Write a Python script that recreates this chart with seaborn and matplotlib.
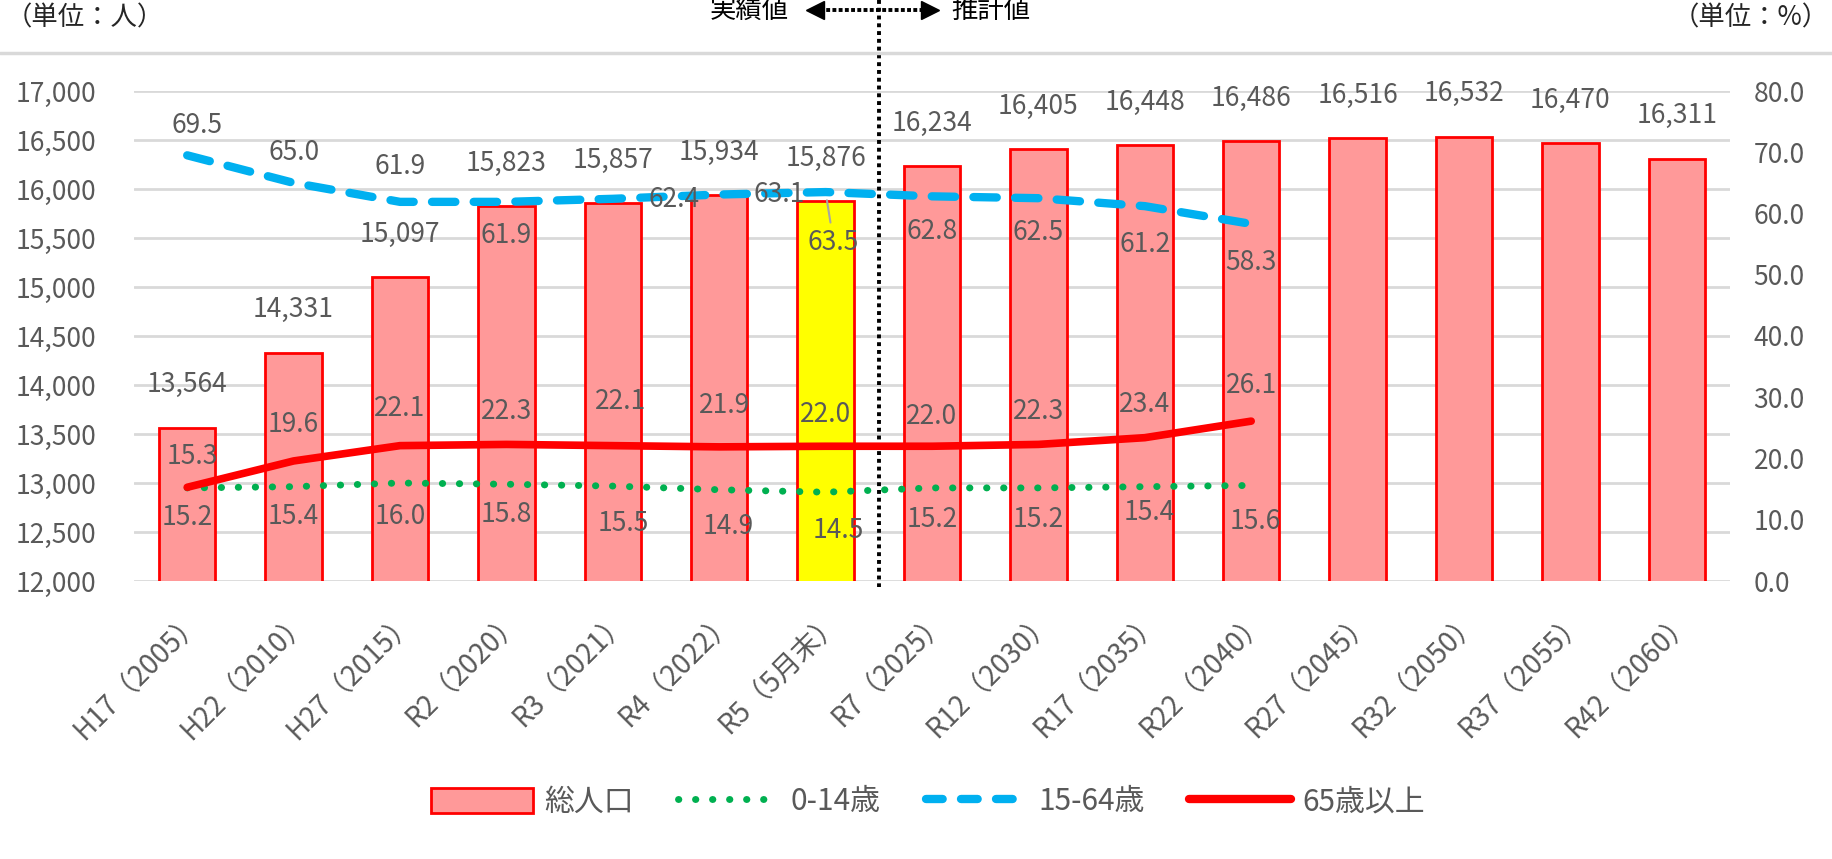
import numpy as np
import pandas as pd
import seaborn as sns
import matplotlib.pyplot as plt
import matplotlib.transforms as mtransforms
from matplotlib.lines import Line2D
from matplotlib.patches import Patch

# --- data ---
years = ["H17（2005）", "H22（2010）", "H27（2015）", "R2（2020）", "R3（2021）", "R4（2022）",
         "R5（5月末）", "R7（2025）", "R12（2030）", "R17（2035）", "R22（2040）", "R27（2045）",
         "R32（2050）", "R37（2055）", "R42（2060）"]
total_pop = [13564, 14331, 15097, 15823, 15857, 15934, 15876, 16234, 16405,
             16448, 16486, 16516, 16532, 16470, 16311]
age_0_14 = [15.2, 15.4, 16.0, 15.8, 15.5, 14.9, 14.5, 15.2, 15.2, 15.4, 15.6]
age_15_64 = [69.5, 65.0, 61.9, 61.9, 62.4, 63.1, 63.5, 62.8, 62.5, 61.2, 58.3]
age_65_over = [15.3, 19.6, 22.1, 22.3, 22.1, 21.9, 22.0, 22.0, 22.3, 23.4, 26.1]
highlight_year = "R5（5月末）"
series_names = ["総人口", "0-14歳", "15-64歳", "65歳以上"]

# label offsets in pixels (dx, dy up positive)
off_0_14 = [(0, -30), (0, -30), (0, -33), (0, -30), (10, -37), (9, -37), (13, -38),
            (0, -32), (0, -32), (4, -26), (4, -36)]
off_15_64 = [(10, 30), (0, 30), (0, 35), (0, -34), (61, -1), (60, 0), (8, -50),
             (0, -35), (0, -34), (0, -38), (0, -39)]
off_65 = [(5, 31), (0, 36), (0, 37), (0, 33), (8, 44), (5, 41), (0, 32),
          (0, 30), (0, 33), (0, 33), (0, 36)]

PX = 0.72  # points per pixel at dpi 100
GRAY = "#595959"

sns.set_style("white")
plt.rcParams["font.family"] = ["Noto Sans CJK JP", "DejaVu Sans"]

W, H = 1833, 859
fig = plt.figure(figsize=(W / 100, H / 100), dpi=100)
ax = fig.add_axes([134 / W, 1 - 581 / H, (1730 - 134) / W, 490 / H])

df = pd.DataFrame({"year": years, "total": total_pop})
bar_colors = {y: ("#FFFF00" if y == highlight_year else "#FF9999") for y in years}
sns.barplot(data=df, x="year", y="total", hue="year", palette=bar_colors, order=years,
            legend=False, width=0.53, saturation=1, edgecolor="#FF0000", linewidth=2, ax=ax)

ax.set_ylim(12000, 17000)
ax.set_xlim(-0.5, len(years) - 0.5)
ax.set_yticks(np.arange(12000, 17001, 500))
ax.set_yticklabels([f"{v:,}" for v in np.arange(12000, 17001, 500)])
ax.set_xticks(range(len(years)))
ax.set_xticklabels(years, rotation=45, ha="right", rotation_mode="anchor")
ax.yaxis.grid(True, color="#D9D9D9", linewidth=2)
ax.set_axisbelow(True)
ax.tick_params(axis="y", length=0, pad=27, labelsize=19, labelcolor=GRAY)
ax.tick_params(axis="x", length=0, pad=18, labelsize=20, labelcolor=GRAY)
ax.set_xlabel("")
ax.set_ylabel("")

for i, v in enumerate(total_pop):
    ax.annotate(f"{v:,}", (i, v), xytext=(0, 43 * PX), textcoords="offset points",
                ha="center", va="center", fontsize=19, color=GRAY)

ax2 = ax.twinx()
x_pos = np.arange(len(age_0_14))
sns.lineplot(x=x_pos, y=age_0_14, ax=ax2, color="#00B050", linewidth=5,
             linestyle=(0, (0.05, 2.4)), dash_capstyle="round")
sns.lineplot(x=x_pos, y=age_15_64, ax=ax2, color="#00B0F0", linewidth=6,
             linestyle=(0, (2.8, 2.2)), dash_capstyle="round")
sns.lineplot(x=x_pos, y=age_65_over, ax=ax2, color="#FF0000", linewidth=5.5,
             solid_capstyle="round")
ax2.set_ylim(0, 80)
ax2.set_yticks(np.arange(0, 81, 10))
ax2.set_yticklabels([f"{v:.1f}" for v in np.arange(0, 81, 10)])
ax2.tick_params(axis="y", length=0, pad=17, labelsize=19, labelcolor=GRAY)
ax2.grid(False)
ax2.set_ylabel("")

for vals, offs in [(age_0_14, off_0_14), (age_15_64, off_15_64), (age_65_over, off_65)]:
    for i, (v, (dx, dy)) in enumerate(zip(vals, offs)):
        props = None
        if vals is age_15_64 and i == 6:
            props = dict(arrowstyle="-", color="#A6A6A6", lw=1.5, shrinkA=2, shrinkB=6)
        ax2.annotate(f"{v:.1f}", (i, v), xytext=(dx * PX, dy * PX), textcoords="offset points",
                     ha="center", va="center", fontsize=19, color=GRAY, arrowprops=props)

for a in (ax, ax2):
    for s in a.spines.values():
        s.set_visible(False)

# boundary between actual and estimated values
blend = mtransforms.blended_transform_factory(ax.transData, fig.transFigure)
arrow_y = 1 - 10 / H
ax.plot([6.5, 6.5], [1.0, 1 - 587 / H], transform=blend, color="black", lw=2.8,
        linestyle=(0, (1, 1)), clip_on=False, zorder=5)
ax.plot([5.95, 6.93], [arrow_y, arrow_y], transform=blend, color="black", lw=2.8,
        linestyle=(0, (1, 0.6)), clip_on=False, zorder=5)
ax.plot([5.9], [arrow_y], transform=blend, marker="<", markersize=13, color="black",
        clip_on=False, zorder=5)
ax.plot([6.98], [arrow_y], transform=blend, marker=">", markersize=13, color="black",
        clip_on=False, zorder=5)
fig.text(5.28, arrow_y, "実績値", transform=blend, ha="center", va="center", fontsize=19, color="black")
fig.text(7.55, arrow_y, "推計値", transform=blend, ha="center", va="center", fontsize=19, color="black")

fig.text(6 / W, 1 - 18 / H, "（単位：人）", ha="left", va="center", fontsize=19, color="#262626")
fig.text(1829 / W, 1 - 18 / H, "（単位：%）", ha="right", va="center", fontsize=19, color="#262626")
fig.add_artist(Line2D([0, 1], [1 - 53 / H, 1 - 53 / H], color="#D9D9D9", lw=2.5,
                      transform=fig.transFigure))

handles = [
    Patch(facecolor="#FF9999", edgecolor="#FF0000", linewidth=2),
    Line2D([], [], color="#00B050", lw=5, linestyle=(0, (0.05, 2.4)), dash_capstyle="round"),
    Line2D([], [], color="#00B0F0", lw=6, linestyle=(0, (2.0, 2.2)), dash_capstyle="round"),
    Line2D([], [], color="#FF0000", lw=6, solid_capstyle="round"),
]
leg = fig.legend(handles, series_names, loc="center", bbox_to_anchor=(928 / W, 1 - 802 / H),
                 ncol=4, frameon=False, fontsize=21.5, handlelength=3.4, handleheight=0.9,
                 columnspacing=1.5, handletextpad=0.37)
for t in leg.get_texts():
    t.set_color(GRAY)

fig.savefig("out.png", dpi=100)
